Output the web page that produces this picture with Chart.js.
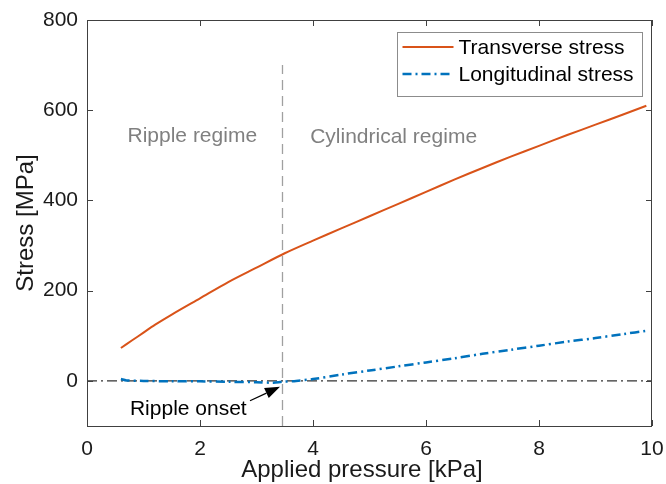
<!DOCTYPE html>
<html>
<head>
<meta charset="utf-8">
<script src="https://cdn.jsdelivr.net/npm/chart.js@4/dist/chart.umd.min.js"></script>
<style>
  html, body { margin: 0; padding: 0; background: #ffffff; }
  #wrap { width: 666px; height: 484px; }
</style>
</head>
<body>
<div id="wrap"><canvas id="c" width="666" height="484"></canvas></div>
<script>
// ---- data ----
const transversePressure = [0.6, 0.8, 1.0, 1.2, 1.5, 2.0, 2.5, 3.0, 3.5, 4.0, 4.5, 5.0, 5.5, 6.0, 6.5, 7.0, 7.5, 8.0, 8.5, 9.0, 9.5, 9.9];
const transverseStress   = [73, 90, 107, 124, 147, 183, 219, 251, 283, 311, 338, 365, 392, 419, 446, 472, 497, 521, 545, 568, 591, 610];

const longitudinalPressure = [0.6, 0.7, 1.0, 1.5, 2.0, 2.5, 3.0, 3.3, 3.45, 3.7, 4.0, 4.5, 5.0, 5.5, 6.0, 6.5, 7.0, 7.5, 8.0, 8.5, 9.0, 9.5, 9.9];
const longitudinalStress   = [4, 1, 0, -1, -1, -2, -3, -4, -2, 0, 4, 14, 23, 32, 41, 50, 60, 69, 78, 87, 95, 104, 111];

const seriesLabels = ["Transverse stress", "Longitudinal stress"];
const xTicks = [0, 2, 4, 6, 8, 10];
const yTicks = [0, 200, 400, 600, 800];
const xLimits = [0, 10];
const yLimits = [-100, 800];

const zeroLineX = [0, 10];
const zeroLineY = [0, 0];
const onsetPressure = 3.46;
const onsetLineY = [-100, 700];

const regimeLabels = ["Ripple regime", "Cylindrical regime"];
const onsetLabel = "Ripple onset";
const xTitle = "Applied pressure [kPa]";
const yTitle = "Stress [MPa]";

// ---- styling ----
const FONT = '"Liberation Sans", Arial, Helvetica, sans-serif';
const ORANGE = '#D95319';
const BLUE = '#0072BD';
const AXIS = '#404040';
const TEXT = '#1a1a1a';

const pts = (xs, ys) => xs.map((x, i) => ({ x: x, y: ys[i] }));

const decorPlugin = {
  id: 'decor',
  afterDatasetsDraw(chart) {
    const ctx = chart.ctx;
    const a = chart.chartArea;
    const xs = chart.scales.x, ys = chart.scales.y;
    ctx.save();
    // box
    ctx.strokeStyle = AXIS;
    ctx.lineWidth = 1;
    ctx.strokeRect(Math.round(a.left) + 0.5, Math.round(a.top) + 0.5, Math.round(a.right - a.left) - 1, Math.round(a.bottom - a.top));
    // inward ticks
    const tl = 6;
    ctx.beginPath();
    xTicks.forEach(v => {
      const px = Math.round(xs.getPixelForValue(v)) + 0.5;
      ctx.moveTo(px, a.bottom); ctx.lineTo(px, a.bottom - tl);
      ctx.moveTo(px, a.top); ctx.lineTo(px, a.top + tl);
    });
    yTicks.forEach(v => {
      const py = Math.round(ys.getPixelForValue(v)) + 0.5;
      ctx.moveTo(a.left, py); ctx.lineTo(a.left + tl, py);
      ctx.moveTo(a.right, py); ctx.lineTo(a.right - tl, py);
    });
    ctx.stroke();

    // regime labels
    ctx.font = '21px ' + FONT;
    ctx.fillStyle = '#808080';
    ctx.textBaseline = 'alphabetic';
    ctx.textAlign = 'left';
    ctx.fillText(regimeLabels[0], xs.getPixelForValue(0.717), ys.getPixelForValue(530));
    ctx.fillText(regimeLabels[1], xs.getPixelForValue(3.95), ys.getPixelForValue(528));

    // ripple onset label + arrow
    ctx.fillStyle = '#000000';
    ctx.fillText(onsetLabel, xs.getPixelForValue(0.76), ys.getPixelForValue(-75.6));
    const x0 = xs.getPixelForValue(2.885), y0 = ys.getPixelForValue(-44);
    const x1 = xs.getPixelForValue(3.416), y1 = ys.getPixelForValue(-13);
    const ang = Math.atan2(y1 - y0, x1 - x0);
    const hl = 15, hw = 5.5;
    const bx = x1 - hl * Math.cos(ang), by = y1 - hl * Math.sin(ang);
    ctx.strokeStyle = '#000000';
    ctx.lineWidth = 1.2;
    ctx.beginPath(); ctx.moveTo(x0, y0); ctx.lineTo(bx, by); ctx.stroke();
    ctx.beginPath();
    ctx.moveTo(x1, y1);
    ctx.lineTo(bx + hw * Math.sin(ang), by - hw * Math.cos(ang));
    ctx.lineTo(bx - hw * Math.sin(ang), by + hw * Math.cos(ang));
    ctx.closePath(); ctx.fill();

    // legend
    const lx0 = a.right - 255.5, ly0 = a.top + 12, lw = 245, lh = 64;
    ctx.fillStyle = '#ffffff';
    ctx.fillRect(lx0, ly0, lw, lh);
    ctx.strokeStyle = '#8c8c8c';
    ctx.lineWidth = 1;
    ctx.strokeRect(Math.round(lx0) + 0.5, Math.round(ly0) + 0.5, lw, lh);
    const rows = [ly0 + 15, ly0 + 42];
    [0, 1].forEach(i => {
      const ds = chart.data.datasets[i];
      ctx.save();
      ctx.strokeStyle = ds.borderColor;
      ctx.lineWidth = ds.borderWidth;
      ctx.setLineDash(ds.borderDash || []);
      ctx.beginPath();
      ctx.moveTo(lx0 + 6, rows[i]); ctx.lineTo(lx0 + 57, rows[i]);
      ctx.stroke();
      ctx.restore();
      ctx.fillStyle = '#000000';
      ctx.font = '21px ' + FONT;
      ctx.textBaseline = 'middle';
      ctx.fillText(ds.label, lx0 + 62, rows[i] + 1);
    });

    // axis titles
    ctx.fillStyle = TEXT;
    ctx.font = '24px ' + FONT;
    ctx.textAlign = 'center';
    ctx.textBaseline = 'alphabetic';
    ctx.fillText(xTitle, 362, 477);
    ctx.save();
    ctx.translate(33, (a.top + a.bottom) / 2);
    ctx.rotate(-Math.PI / 2);
    ctx.fillText(yTitle, 0, 0);
    ctx.restore();
    ctx.restore();
  }
};

new Chart(document.getElementById('c'), {
  type: 'line',
  data: {
    datasets: [
      { label: seriesLabels[0], data: pts(transversePressure, transverseStress), borderColor: ORANGE, borderWidth: 2, pointRadius: 0, tension: 0.3, fill: false },
      { label: seriesLabels[1], data: pts(longitudinalPressure, longitudinalStress), borderColor: BLUE, borderWidth: 2.5, borderDash: [9, 4, 2, 4], pointRadius: 0, tension: 0.3, fill: false },
      { label: 'zero', data: pts(zeroLineX, zeroLineY), borderColor: '#333333', borderWidth: 1.1, borderDash: [10, 4, 2, 4], pointRadius: 0, fill: false },
      { label: 'onset', data: pts([onsetPressure, onsetPressure], onsetLineY), borderColor: '#a0a0a0', borderWidth: 1.3, borderDash: [10, 6], pointRadius: 0, fill: false }
    ]
  },
  options: {
    responsive: false,
    animation: false,
    layout: { padding: { top: 20, right: 14, left: 0, bottom: 0 } },
    plugins: { legend: { display: false }, tooltip: { enabled: false } },
    scales: {
      x: {
        type: 'linear', min: xLimits[0], max: xLimits[1],
        grid: { display: false, drawTicks: false },
        border: { display: false },
        ticks: { stepSize: 2, color: TEXT, font: { family: FONT, size: 21 }, padding: 11, maxRotation: 0 },
        afterBuildTicks: s => { s.ticks = xTicks.map(v => ({ value: v })); },
        afterFit: s => { s.height = 58; s.paddingLeft = 0; s.paddingRight = 0; }
      },
      y: {
        type: 'linear', min: yLimits[0], max: yLimits[1],
        grid: { display: false, drawTicks: false },
        border: { display: false },
        ticks: { color: TEXT, font: { family: FONT, size: 21 }, padding: 9 },
        afterBuildTicks: s => { s.ticks = yTicks.map(v => ({ value: v })); },
        afterFit: s => { s.width = 87; s.paddingTop = 0; s.paddingBottom = 0; }
      }
    }
  },
  plugins: [decorPlugin]
});
</script>
</body>
</html>
